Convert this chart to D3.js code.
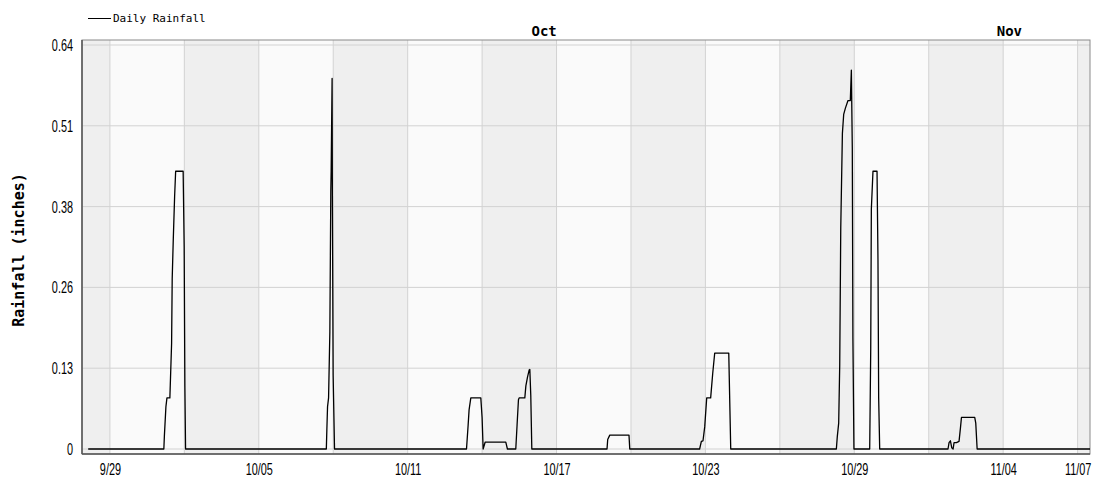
<!DOCTYPE html>
<html>
<head>
<meta charset="utf-8">
<script src="https://cdn.jsdelivr.net/npm/d3@7"></script>
<style>
  body { margin: 0; background: #fff; }
  svg { display: block; }
</style>
</head>
<body>
<div id="chart"></div>
<script>
// readings: time stamp (month/day hour:min) and daily rainfall total in inches
const stamps = [
  "09/28 03:00",
  "10/01 04:10","10/01 04:40","10/01 06:10","10/01 07:10","10/01 10:00","10/01 11:40","10/01 12:15",
  "10/01 13:15","10/01 14:35","10/01 15:35","10/01 22:50","10/01 23:50","10/02 00:30","10/02 01:10",
  "10/07 17:20","10/07 17:50","10/07 18:30","10/07 19:30","10/07 20:45","10/07 21:40","10/07 22:00",
  "10/07 22:55","10/07 23:10","10/07 23:55","10/08 01:15",
  "10/13 08:55","10/13 10:30","10/13 11:25","10/13 13:05","10/13 22:45","10/14 00:00","10/14 01:00",
  "10/14 03:00","10/14 22:55","10/15 00:30",
  "10/15 08:35","10/15 09:50","10/15 11:10","10/15 11:50","10/15 17:20","10/15 18:20","10/15 19:55",
  "10/15 21:30","10/15 22:10","10/15 23:05","10/16 00:05",
  "10/19 00:50","10/19 01:30","10/19 03:30","10/19 22:05","10/19 22:50",
  "10/22 18:25","10/22 20:05","10/22 21:40","10/22 23:20","10/23 01:15","10/23 05:05","10/23 07:05",
  "10/23 09:00","10/23 22:35","10/24 00:30",
  "10/28 06:40","10/28 07:35","10/28 08:55","10/28 09:55","10/28 10:55","10/28 12:30","10/28 13:45",
  "10/28 15:25","10/28 17:55","10/28 20:10","10/28 21:10","10/28 22:05","10/28 22:40","10/28 23:40",
  "10/29 14:55","10/29 15:55","10/29 16:30","10/29 18:05","10/29 22:00","10/29 22:55","10/29 23:35",
  "10/30 00:35",
  "11/01 18:40","11/01 19:40","11/01 21:00","11/01 22:15","11/01 23:35","11/02 00:30","11/02 02:50",
  "11/02 05:20","11/02 06:40","11/02 07:40","11/02 20:30","11/02 21:30","11/02 22:50",
  "11/07 12:00"
];
const inches = [
  0,
  0, 0.02, 0.067, 0.081, 0.081, 0.167, 0.27,
  0.33, 0.40, 0.44, 0.44, 0.32, 0.10, 0,
  0, 0.03, 0.067, 0.081, 0.186, 0.41, 0.44,
  0.587, 0.41, 0.117, 0,
  0, 0.038, 0.062, 0.081, 0.081, 0.05, 0,
  0.011, 0.011, 0,
  0, 0.038, 0.078, 0.081, 0.081, 0.10, 0.114,
  0.125, 0.126, 0.085, 0,
  0, 0.015, 0.022, 0.022, 0,
  0, 0.012, 0.013, 0.035, 0.081, 0.081, 0.12,
  0.152, 0.152, 0,
  0, 0.02, 0.041, 0.133, 0.35, 0.50, 0.53,
  0.54, 0.552, 0.552, 0.60, 0.477, 0.176, 0,
  0, 0.16, 0.38, 0.44, 0.44, 0.30, 0.081,
  0,
  0, 0.010, 0.013, 0.002, 0, 0.01, 0.01,
  0.012, 0.033, 0.05, 0.05, 0.041, 0,
  0
];

const gridDays = ["09/29","10/02","10/05","10/08","10/11","10/14","10/17","10/20","10/23","10/26","10/29","11/01","11/04","11/07"];
const labelDays = ["09/29","10/05","10/11","10/17","10/23","10/29","11/04","11/07"];
const dayLabels = ["9/29","10/05","10/11","10/17","10/23","10/29","11/04","11/07"];
const yTicks = [0, 0.128, 0.256, 0.384, 0.512, 0.64];
const yLabels = ["0","0.13","0.26","0.38","0.51","0.64"];
const months = ["Oct","Nov"];
const monthStarts = ["10/01","11/01"];
const monthEnds = ["11/01","12/01"];

const W = 1096, H = 480;
const margin = {left: 82, right: 6, top: 40, bottom: 26};
const iw = W - margin.left - margin.right;
const ih = H - margin.top - margin.bottom;

const parseT = d3.utcParse("%m/%d %H:%M");
const parseD = d3.utcParse("%m/%d");
const data = stamps.map((s, i) => ({t: parseT(s), v: inches[i]}));

const x0 = parseT("09/27 21:00"), x1 = parseT("11/07 12:00");
const x = d3.scaleUtc().domain([x0, x1]).range([0, iw]);
const y = d3.scaleLinear().domain([0, 0.64]).range([ih - 5, 5]);

const svg = d3.select('#chart').append('svg').attr('width', W).attr('height', H)
  .style('font-family', 'DejaVu Sans Mono, monospace');
const g = svg.append('g').attr('transform', `translate(${margin.left}, ${margin.top})`);

// alternating 3-day bands
const edges = [x0, ...gridDays.map(parseD), x1];
g.selectAll('.band').data(d3.pairs(edges)).enter().append('rect')
  .attr('class', 'band')
  .attr('x', d => x(d[0])).attr('width', d => x(d[1]) - x(d[0]))
  .attr('y', 0).attr('height', ih)
  .attr('fill', (d, i) => i % 2 === 0 ? '#efefef' : '#fafafa');

// grid
g.selectAll('.vgrid').data(gridDays.map(parseD)).enter().append('line')
  .attr('x1', d => x(d)).attr('x2', d => x(d)).attr('y1', 0).attr('y2', ih)
  .attr('stroke', '#d2d2d2');
g.selectAll('.hgrid').data(yTicks).enter().append('line')
  .attr('x1', 0).attr('x2', iw).attr('y1', d => y(d)).attr('y2', d => y(d))
  .attr('stroke', '#d2d2d2');

// frame
g.append('rect').attr('width', iw).attr('height', ih).attr('fill', 'none').attr('stroke', '#8a8a8a');
g.append('line').attr('x1', 0).attr('x2', 0).attr('y1', 0).attr('y2', ih).attr('stroke', '#555').attr('stroke-width', 1.5);
g.append('line').attr('x1', 0).attr('x2', iw).attr('y1', ih).attr('y2', ih).attr('stroke', '#555').attr('stroke-width', 1.5);

// rainfall line
const line = d3.line().x(d => x(d.t)).y(d => y(d.v));
g.append('path').datum(data).attr('d', line)
  .attr('fill', 'none').attr('stroke', '#000').attr('stroke-width', 1.3).attr('stroke-linejoin', 'round');

// axes (narrow numeric labels)
const sx = 0.64;
const yAxis = g.append('g').call(d3.axisLeft(y).tickValues(yTicks).tickFormat((d, i) => yLabels[i]).tickSize(0));
yAxis.select('.domain').remove();
yAxis.selectAll('text').attr('x', -9 / sx).attr('transform', `scale(${sx},1)`)
  .style('font-family', 'Liberation Sans, Arial, sans-serif').style('font-size', '17px').attr('fill', '#000');

const xAxis = g.append('g').attr('transform', `translate(0, ${ih})`)
  .call(d3.axisBottom(x).tickValues(labelDays.map(parseD)).tickFormat((d, i) => dayLabels[i]).tickSize(0).tickPadding(9));
xAxis.select('.domain').remove();
xAxis.selectAll('text').attr('transform', `scale(${sx},1)`)
  .style('font-family', 'Liberation Sans, Arial, sans-serif').style('font-size', '17px').attr('fill', '#000');

// month labels
svg.selectAll('.month').data(months).enter().append('text')
  .attr('x', (d, i) => {
    const a = d3.max([parseD(monthStarts[i]), x0]);
    const b = d3.min([parseD(monthEnds[i]), x1]);
    return margin.left + (x(a) + x(b)) / 2;
  })
  .attr('y', 36).attr('text-anchor', 'middle')
  .style('font-size', '14px').style('font-weight', 'bold').text(d => d);

// y title
svg.append('text').attr('transform', 'translate(19, 250) rotate(-90)')
  .attr('text-anchor', 'middle').attr('dominant-baseline', 'central')
  .style('font-size', '15px').style('font-weight', 'bold').text('Rainfall (inches)');

// legend
svg.append('line').attr('x1', 88).attr('x2', 111).attr('y1', 18.5).attr('y2', 18.5).attr('stroke', '#000');
svg.append('text').attr('x', 113).attr('y', 22).style('font-size', '11px').text('Daily Rainfall');
</script>
</body>
</html>
